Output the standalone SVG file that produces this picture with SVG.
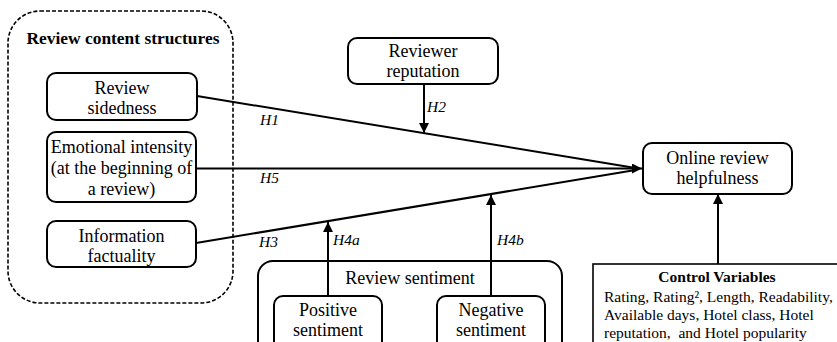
<svg xmlns="http://www.w3.org/2000/svg" width="837" height="342" viewBox="0 0 837 342">
<defs>
<style>
.box{fill:#fff;stroke:#000;stroke-width:2}
.t{font-family:"Liberation Serif","Times New Roman",serif;font-size:18px;fill:#000;text-anchor:middle}
.b{font-weight:bold}
.h{font-family:"Liberation Serif","Times New Roman",serif;font-size:15.5px;font-style:italic;fill:#000}
.c{font-family:"Liberation Serif","Times New Roman",serif;font-size:15.5px;fill:#000}
.ln{fill:none;stroke:#000;stroke-width:2}
</style>
<marker id="ah" viewBox="0 0 10 10" refX="10" refY="5" markerWidth="5" markerHeight="5" markerUnits="strokeWidth" orient="auto">
<path d="M0,0 L10,5 L0,10 Z" fill="#000"/>
</marker>
</defs>
<rect width="837" height="342" fill="#fff"/>

<g id="group-content">
<rect x="8" y="11" width="225" height="292" rx="32" fill="none" stroke="#000" stroke-width="1.6" stroke-dasharray="4,2"/>
<text class="t b" x="123" y="44" style="font-size:17.4px">Review content structures</text>
</g>

<g id="node-sidedness">
<rect class="box" x="47" y="73" width="150" height="47" rx="9"/>
<text class="t" x="122" y="94">Review</text>
<text class="t" x="122" y="114">sidedness</text>
</g>

<g id="node-emotional">
<rect class="box" x="47" y="132" width="149" height="70" rx="9"/>
<text class="t" x="121.5" y="153">Emotional intensity</text>
<text class="t" x="121.5" y="174">(at the beginning of</text>
<text class="t" x="121.5" y="195">a review)</text>
</g>

<g id="node-factuality">
<rect class="box" x="47" y="221" width="149" height="46" rx="9"/>
<text class="t" x="121.5" y="242">Information</text>
<text class="t" x="121.5" y="262">factuality</text>
</g>

<g id="node-reputation">
<rect class="box" x="348" y="38" width="150" height="46" rx="9"/>
<text class="t" x="423" y="57">Reviewer</text>
<text class="t" x="423" y="77">reputation</text>
</g>

<g id="node-helpfulness">
<rect class="box" x="643" y="143" width="149" height="51" rx="9"/>
<text class="t" x="717.5" y="164">Online review</text>
<text class="t" x="717.5" y="184">helpfulness</text>
</g>

<g id="group-sentiment">
<rect class="box" x="258" y="261" width="304" height="100" rx="15"/>
<text class="t" x="410" y="284">Review sentiment</text>
</g>

<g id="node-positive">
<rect class="box" x="274" y="296" width="108" height="60" rx="9"/>
<text class="t" x="328" y="316">Positive</text>
<text class="t" x="328" y="336">sentiment</text>
</g>

<g id="node-negative">
<rect class="box" x="437" y="296" width="108" height="60" rx="9"/>
<text class="t" x="491" y="316">Negative</text>
<text class="t" x="491" y="336">sentiment</text>
</g>

<g id="node-controls">
<rect x="593" y="264" width="260" height="100" fill="#fff" stroke="#000" stroke-width="1.6"/>
<text class="c b" x="717" y="282" text-anchor="middle">Control Variables</text>
<text class="c" x="604" y="302">Rating, Rating², Length, Readability,</text>
<text class="c" x="604" y="320">Available days, Hotel class, Hotel</text>
<text class="c" x="604" y="338" xml:space="preserve">reputation,  and Hotel popularity</text>
</g>

<g id="connectors">
<line class="ln" x1="197" y1="96" x2="634" y2="167.7"/>
<line class="ln" x1="196" y1="168.5" x2="642" y2="168.5" marker-end="url(#ah)"/>
<line class="ln" x1="196" y1="243" x2="634" y2="170.3"/>
<line class="ln" x1="424" y1="84" x2="424" y2="133" marker-end="url(#ah)"/>
<line class="ln" x1="328" y1="296" x2="328" y2="222" marker-end="url(#ah)"/>
<line class="ln" x1="491" y1="296" x2="491" y2="195" marker-end="url(#ah)"/>
<line class="ln" x1="718" y1="264" x2="718" y2="194" marker-end="url(#ah)"/>
<text class="h" x="260" y="125">H1</text>
<text class="h" x="260" y="183">H5</text>
<text class="h" x="259" y="247">H3</text>
<text class="h" x="427" y="112">H2</text>
<text class="h" x="333" y="245">H4a</text>
<text class="h" x="497" y="245">H4b</text>
</g>
</svg>
